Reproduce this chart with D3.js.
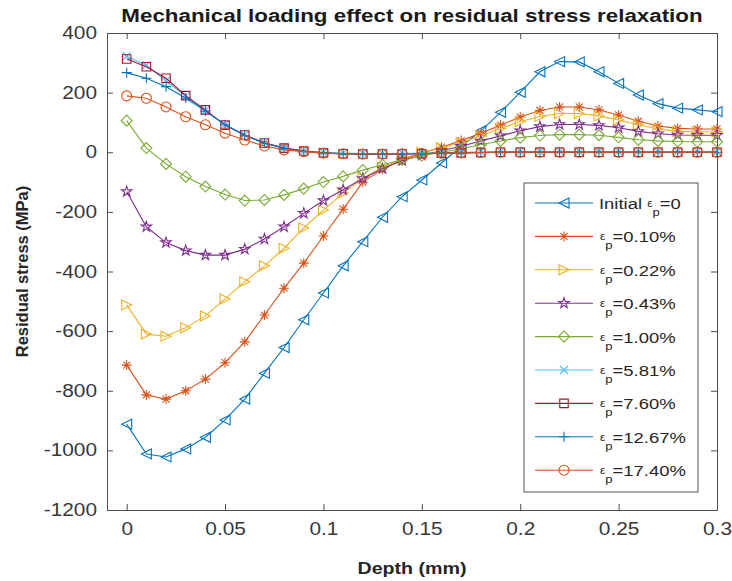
<!DOCTYPE html>
<meta charset="utf-8">
<style>
  body { margin: 0; background: #fff; }
  text { font-family: "Liberation Sans", Arial, sans-serif; }
</style>
<body>
<script src="https://cdn.jsdelivr.net/npm/d3@7"></script>
<script>

var width = 732,
    height = 581;

// depth in mm
var depth = [0, 0.01, 0.02, 0.03, 0.04, 0.05, 0.06, 0.07, 0.08, 0.09, 0.10,
             0.11, 0.12, 0.13, 0.14, 0.15, 0.16, 0.17, 0.18, 0.19, 0.20,
             0.21, 0.22, 0.23, 0.24, 0.25, 0.26, 0.27, 0.28, 0.29, 0.30];

var sInitial = [-912, -1012, -1022, -995, -956, -898, -828, -741, -655, -562, -472,
                -381, -300, -218, -149, -93, -36, 20, 72, 134, 201,
                270, 304, 303, 270, 231, 192, 163, 148, 142, 136];
var s010 = [-714, -814, -828, -800, -761, -706, -636, -546, -456, -372, -281,
            -191, -100, -57, -25, -3, 17, 39, 64, 91, 118,
            140, 152, 152, 142, 125, 104, 88, 80, 78, 78];
var s022 = [-512, -610, -617, -589, -549, -492, -434, -381, -322, -254, -194,
            -137, -87, -50, -22, 0, 15, 32, 55, 80, 103,
            120, 130, 130, 122, 108, 92, 78, 70, 68, 68];
var s043 = [-132, -250, -303, -330, -345, -345, -325, -291, -250, -205, -162,
            -126, -88, -55, -28, -10, 5, 20, 38, 55, 72,
            86, 93, 93, 90, 82, 70, 62, 58, 57, 57];
var s100 = [106, 14, -39, -82, -115, -142, -162, -160, -143, -122, -100,
            -81, -60, -42, -25, -12, 0, 12, 25, 38, 49,
            56, 59, 59, 57, 50, 42, 38, 36, 35, 35];
var s581 = [322, 292, 240, 188, 140, 92, 58, 32, 15, 5, 0,
            -3, -4, -4, -4, -3, -1, 0, 1, 2, 2,
            2, 2, 2, 2, 2, 2, 2, 2, 2, 2];
var s760 = [313, 287, 248, 190, 142, 91, 58, 31, 14, 4, -2,
            -5, -6, -6, -6, -5, -3, -2, -1, 0, 0,
            0, 0, 0, 0, 0, 0, 0, 0, 0, 0];
var s1267 = [267, 248, 220, 182, 138, 92, 56, 30, 13, 3, -3,
             -6, -7, -7, -6, -5, -3, -2, -1, 0, 0,
             0, 0, 0, 0, 0, 0, 0, 0, 0, 0];
var s1740 = [189, 181, 152, 119, 92, 64, 41, 21, 8, 2, -3,
             -5, -6, -6, -5, -4, -3, -2, -1, 0, 0,
             0, 0, 0, 0, 0, 0, 0, 0, 0, 0];

var strainLabels = ["0", "0.10%", "0.22%", "0.43%", "1.00%", "5.81%", "7.60%", "12.67%", "17.40%"];
var seriesValues = [sInitial, s010, s022, s043, s100, s581, s760, s1267, s1740];
var markerTypes = ["triLeft", "asterisk", "triRight", "star", "diamond", "cross", "square", "plus", "circle"];
var colors = ["#0072BD", "#D95319", "#EDB120", "#7E2F8E", "#77AC30", "#4DBEEE", "#A2142F", "#0072BD", "#D95319"];

var xTicks = [0, 0.05, 0.1, 0.15, 0.2, 0.25, 0.3];
var yTicks = [-1200, -1000, -800, -600, -400, -200, 0, 200, 400];

var series = seriesValues.map(function(v, i) {
  return {label: strainLabels[i], marker: markerTypes[i], color: colors[i],
          points: v.map(function(y, j) { return {x: depth[j], y: y}; })};
});

var margin = {left: 107, right: 15, top: 33, bottom: 71};
var wide = 1.19; // text in the picture is a bit stretched sideways

var x = d3.scaleLinear().domain([-0.01, 0.3]).range([margin.left, width - margin.right]);
var y = d3.scaleLinear().domain([-1200, 400]).range([height - margin.bottom, margin.top]);

function markerPath(type, r) {
  var p = d3.path();
  if (type == "triLeft") { p.moveTo(r, -r); p.lineTo(-r, 0); p.lineTo(r, r); p.closePath(); }
  else if (type == "triRight") { p.moveTo(-r, -r); p.lineTo(r, 0); p.lineTo(-r, r); p.closePath(); }
  else if (type == "diamond") { r = r * 1.1; p.moveTo(0, -r); p.lineTo(r, 0); p.lineTo(0, r); p.lineTo(-r, 0); p.closePath(); }
  else if (type == "square") { r = r * 0.85; p.rect(-r, -r, 2 * r, 2 * r); }
  else if (type == "circle") { p.arc(0, 0, r, 0, 2 * Math.PI); }
  else if (type == "plus") { p.moveTo(-r, 0); p.lineTo(r, 0); p.moveTo(0, -r); p.lineTo(0, r); }
  else if (type == "cross") { r = r * 0.8; p.moveTo(-r, -r); p.lineTo(r, r); p.moveTo(-r, r); p.lineTo(r, -r); }
  else if (type == "asterisk") {
    p.moveTo(-r, 0); p.lineTo(r, 0); p.moveTo(0, -r); p.lineTo(0, r);
    var q = r * 0.7;
    p.moveTo(-q, -q); p.lineTo(q, q); p.moveTo(-q, q); p.lineTo(q, -q);
  }
  else if (type == "star") { return d3.symbol(d3.symbolStar, r * r * 1.35)(); }
  return p.toString();
}

function stretch(sel, k) {
  sel.each(function() {
    var w = this.getComputedTextLength();
    d3.select(this).attr("textLength", w * k).attr("lengthAdjust", "spacingAndGlyphs");
  });
}

var svg = d3.select("body").append("svg")
    .attr("width", width)
    .attr("height", height);

svg.append("rect").attr("width", width).attr("height", height).attr("fill", "#fff");

var axisColor = "#4d4d4d";
var tickSize = 6;
var fmt = function(d) { return String(d); };

// axes, ticks inward on all four sides
svg.append("g")
    .attr("transform", "translate(0," + y.range()[0] + ")")
    .call(d3.axisBottom(x).tickValues(xTicks).tickFormat(fmt).tickSizeInner(-tickSize).tickSizeOuter(0).tickPadding(13));
svg.append("g")
    .attr("transform", "translate(0," + y.range()[1] + ")")
    .call(d3.axisTop(x).tickValues(xTicks).tickFormat("").tickSizeInner(-tickSize).tickSizeOuter(0));
svg.append("g")
    .attr("transform", "translate(" + x.range()[0] + ",0)")
    .call(d3.axisLeft(y).tickValues(yTicks).tickFormat(fmt).tickSizeInner(-tickSize).tickSizeOuter(0).tickPadding(10));
svg.append("g")
    .attr("transform", "translate(" + x.range()[1] + ",0)")
    .call(d3.axisRight(y).tickValues(yTicks).tickFormat("").tickSizeInner(-tickSize).tickSizeOuter(0));

svg.selectAll(".domain, .tick line").attr("stroke", axisColor);
svg.selectAll(".tick text")
    .attr("fill", "#383838")
    .style("font-size", "17.5px")
    .call(stretch, wide);

var line = d3.line()
    .x(function(d) { return x(d.x); })
    .y(function(d) { return y(d.y); });

var plot = svg.append("g");

var sg = plot.selectAll(".series")
    .data(series)
  .enter().append("g")
    .attr("class", "series");

sg.append("path")
    .attr("d", function(d) { return line(d.points); })
    .attr("fill", "none")
    .attr("stroke", function(d) { return d.color; })
    .attr("stroke-width", 1.1);

sg.selectAll(".mk")
    .data(function(d) { return d.points.map(function(p) { return {p: p, s: d}; }); })
  .enter().append("path")
    .attr("class", "mk")
    .attr("transform", function(d) { return "translate(" + x(d.p.x) + "," + y(d.p.y) + ")"; })
    .attr("d", function(d) { return markerPath(d.s.marker, 5); })
    .attr("fill", "none")
    .attr("stroke", function(d) { return d.s.color; })
    .attr("stroke-width", 1.1);

// title and axis labels
svg.append("text")
    .attr("x", (x.range()[0] + x.range()[1]) / 2)
    .attr("y", 22)
    .attr("text-anchor", "middle")
    .style("font-size", "18.8px")
    .style("font-weight", "bold")
    .attr("fill", "#1a1a1a")
    .text("Mechanical loading effect on residual stress relaxation")
    .call(stretch, wide);

svg.append("text")
    .attr("x", (x.range()[0] + x.range()[1]) / 2)
    .attr("y", 574)
    .attr("text-anchor", "middle")
    .style("font-size", "16.5px")
    .style("font-weight", "bold")
    .attr("fill", "#262626")
    .text("Depth (mm)")
    .call(stretch, wide);

svg.append("text")
    .attr("transform", "translate(28," + ((y.range()[0] + y.range()[1]) / 2) + ") rotate(-90)")
    .attr("text-anchor", "middle")
    .style("font-size", "16.5px")
    .style("font-weight", "bold")
    .attr("fill", "#262626")
    .text("Residual stress (MPa)");

// legend
var legend = svg.append("g").attr("transform", "translate(524,183)");
legend.append("rect")
    .attr("width", 174)
    .attr("height", 309)
    .attr("fill", "#fff")
    .attr("stroke", "#555")
    .attr("stroke-width", 1);

var li = legend.selectAll(".li")
    .data(series)
  .enter().append("g")
    .attr("class", "li")
    .attr("transform", function(d, i) { return "translate(0," + (20 + i * 33.4) + ")"; });

li.append("line")
    .attr("x1", 11).attr("x2", 69)
    .attr("stroke", function(d) { return d.color; })
    .attr("stroke-width", 1.1);
li.append("path")
    .attr("transform", "translate(40,0)")
    .attr("d", function(d) { return markerPath(d.marker, 5); })
    .attr("fill", "none")
    .attr("stroke", function(d) { return d.color; })
    .attr("stroke-width", 1.1);

var lt = li.append("g")
    .attr("transform", function(d, i) { return "translate(" + (i == 0 ? 75 : 76) + ",6) scale(" + wide + ",1)"; })
  .append("text")
    .attr("fill", "#262626")
    .style("font-size", "15.5px");
lt.append("tspan").text(function(d, i) { return i == 0 ? "Initial " : ""; });
lt.append("tspan").style("font-size", "10px").attr("dy", -2).text("ε");
lt.append("tspan").style("font-size", "11px").attr("dy", 9).text("p");
lt.append("tspan").attr("dy", -7).text(function(d) { return "=" + d.label; });

</script>
</body>
